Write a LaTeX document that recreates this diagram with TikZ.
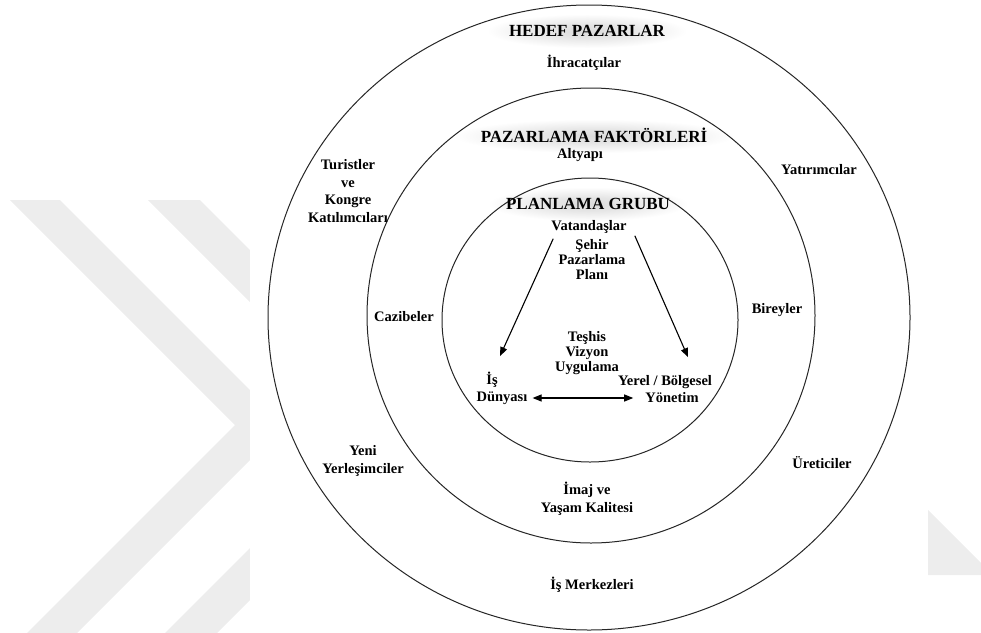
\documentclass[tikz,border=0pt]{standalone}
\usepackage{fontspec}
\setmainfont{Liberation Serif}
\usetikzlibrary{positioning,arrows.meta}
\tikzstyle{ring} = [line width=1pt, draw=black!85]
\tikzstyle{heading} = [font=\fontsize{17}{20}\selectfont\bfseries, inner sep=1pt]
\tikzstyle{item} = [font=\fontsize{14.5}{17.6}\selectfont\bfseries, align=center, inner sep=1pt]
\tikzstyle{tight} = [item, font=\fontsize{14.5}{15}\selectfont\bfseries]
\tikzstyle{connect} = [line width=1.1pt, -{Triangle[length=9pt,width=7pt]}]
\tikzstyle{twoway} = [line width=1.1pt, {Triangle[length=9pt,width=7pt]}-{Triangle[length=9pt,width=7pt]}]
\tikzstyle{wmark} = [fill=black!7]
\pgfdeclareradialshading{titleglow}{\pgfpoint{0bp}{0bp}}{color(0bp)=(black!14); color(10bp)=(black!10); color(25bp)=(white); color(50bp)=(white)}

\begin{document}
\begin{tikzpicture}[x=1pt,y=-1pt]
			\useasboundingbox (0,0) rectangle (981,632);
			% watermark behind the figure
			\path [wmark] (10,200) -- (60,200) -- (285,425) -- (60,650) -- (10,650) -- (235,425) -- cycle;
			\path [wmark] (148,200) -- (200,200) -- (425,425) -- (200,650) -- (148,650) -- (373,425) -- cycle;
			\path [wmark] (928,510) -- (981,563) -- (981,575) -- (928,575) -- cycle;
			\fill [white] (250,0) rectangle (928,632);
			%-----------------------------------------------
			\shade [shading=titleglow] (587,31) ellipse [x radius=100pt, y radius=17pt];
			\shade [shading=titleglow] (594,136) ellipse [x radius=140pt, y radius=17pt];
			\shade [shading=titleglow] (588,204) ellipse [x radius=100pt, y radius=17pt];
			\draw [ring] (589,317.5) ellipse [x radius=321pt, y radius=312.5pt];
			\draw [ring] (591,315.5) ellipse [x radius=224pt, y radius=227.5pt];
			\draw [ring] (590,320) ellipse [x radius=148pt, y radius=142pt];
			%-----------------------------------------------
			\node (hedef) [heading] at (587,31) {HEDEF PAZARLAR};
			\node (ihr) [item] at (584,63) {İhracatçılar};
			\node (tur) [item] at (348,191) {Turistler\\ve\\Kongre\\Katılımcıları};
			\node (yat) [item] at (819,170) {Yatırımcılar};
			\node (yeni) [item] at (363,461) {Yeni\\Yerleşimciler};
			\node (ure) [item] at (822,463) {Üreticiler};
			\node (ism) [item] at (592,585) {İş Merkezleri};
			%-----------------------------------------------
			\node (pazf) [heading] at (594,135) {PAZARLAMA FAKTÖRLERİ};
			\node (alt) [item] at (580,155) {Altyapı};
			\node (caz) [item] at (404,317) {Cazibeler};
			\node (bir) [item] at (777,310) {Bireyler};
			\node (imaj) [item] at (587,499) {İmaj ve\\Yaşam Kalitesi};
			%-----------------------------------------------
			\node (plang) [heading] at (588,204) {PLANLAMA GRUBU};
			\node (vat) [item] at (589,227) {Vatandaşlar};
			\node (plan) [tight] at (592,260) {Şehir\\Pazarlama\\Planı};
			\node (teshis) [tight] at (587,353) {Teşhis\\Vizyon\\Uygulama};
			\node (is) [item] at (492,380) {İş};
			\node (dun) [item] at (502,398) {Dünyası};
			\node (yerel) [item] at (665,382) {Yerel / Bölgesel};
			\node (yon) [item] at (672,398) {Yönetim};
			%-----------------------------------------------
			\draw [connect] ([xshift=3pt,yshift=-4pt]vat.south west) -- ([xshift=8pt,yshift=15pt]is.north);
			\draw [connect] ([xshift=7pt,yshift=-1pt]vat.south east) -- ([xshift=23pt,yshift=17pt]yerel.north);
			\draw [twoway] ([xshift=4pt]dun.east) -- ([xshift=-11pt]yon.west);
			\end{tikzpicture}
\end{document}
